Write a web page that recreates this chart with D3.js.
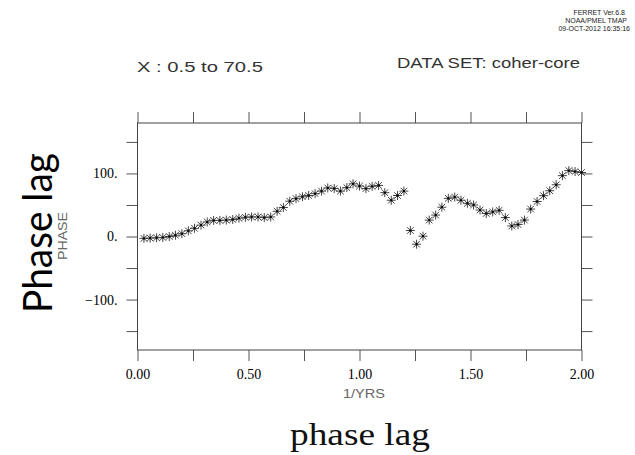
<!DOCTYPE html>
<html>
<head>
<meta charset="utf-8">
<script src="https://cdn.jsdelivr.net/npm/d3@7"></script>
<style>
  html, body { margin: 0; padding: 0; background: #fff; }
  svg { display: block; }
</style>
</head>
<body>
<svg id="chart" width="635" height="455"></svg>
<script>
// ---- data ----
const freq = [0.029,0.057,0.086,0.114,0.143,0.171,0.200,0.229,0.257,0.286,
              0.314,0.343,0.371,0.400,0.429,0.457,0.486,0.514,0.543,0.571,
              0.600,0.629,0.657,0.686,0.714,0.743,0.771,0.800,0.829,0.857,
              0.886,0.914,0.943,0.971,1.000,1.029,1.057,1.086,1.114,1.143,
              1.171,1.200,1.229,1.257,1.286,1.314,1.343,1.371,1.400,1.429,
              1.457,1.486,1.514,1.543,1.571,1.600,1.629,1.657,1.686,1.714,
              1.743,1.771,1.800,1.829,1.857,1.886,1.914,1.943,1.971,2.000];
const phase = [-3,-2.5,-2,-1.5,0,2,4.5,9,13,18,
               23,25.5,25.5,26,27,29,30.5,31,31,30,
               31,40,46,56,60,63,65,68,72,77,
               76,72,77.5,83.5,80,76,79.5,81,69.5,57.5,
               65,72,9.5,-12.2,0.5,26,34,46.5,60.5,62.5,
               57.5,52.6,50,42,36.5,39,41.5,30,16.7,19,
               26,43.5,55.5,64.7,72.6,82,96.5,104.5,103,101.5];
const xTicks = [0,0.25,0.5,0.75,1,1.25,1.5,1.75,2];
const xLabels = [0,0.5,1,1.5,2];
const yTicks = [-150,-100,-50,0,50,100,150];
const yLabels = [-100,0,100];
const headerLines = ["FERRET Ver.6.8","NOAA/PMEL TMAP","09-OCT-2012 16:35:16"];

// ---- layout ----
const svg = d3.select("#chart");
const L = 137.5, R = 581.5, T = 123, B = 350;
const x = d3.scaleLinear().domain([0, 2]).range([L, R]);
const y = d3.scaleLinear().domain([-180, 180]).range([B, T]);

const frameColor = "#444";
const serif = "'Liberation Serif', serif";
const sans = "'Liberation Sans', 'DejaVu Sans', sans-serif";

// header
const hdrRight = [625, 627, 630];
svg.selectAll("text.hdr").data(headerLines).join("text")
  .attr("class", "hdr")
  .attr("x", (d, i) => hdrRight[i]).attr("y", (d, i) => 15 + i * 8)
  .attr("text-anchor", "end")
  .attr("font-family", sans).attr("font-size", 7)
  .attr("fill", "#222")
  .text(d => d);

svg.append("text").attr("x", 137).attr("y", 72)
  .attr("font-family", sans).attr("font-size", 15)
  .attr("fill", "#333")
  .attr("textLength", 126).attr("lengthAdjust", "spacingAndGlyphs")
  .text("X : 0.5 to 70.5");
svg.append("text").attr("x", 397).attr("y", 68)
  .attr("font-family", sans).attr("font-size", 15)
  .attr("fill", "#333")
  .attr("textLength", 183).attr("lengthAdjust", "spacingAndGlyphs")
  .text("DATA SET: coher-core");

// axes
function styleAxis(g) {
  g.select(".domain").remove();
  g.attr("font-family", serif).attr("font-size", 14);
  g.selectAll(".tick line").attr("stroke", "#555").attr("stroke-width", 1);
  g.selectAll(".tick text").attr("font-family", serif)
    .attr("font-size", 14).attr("fill", "#000");
}
const fmtX = d => xLabels.some(v => Math.abs(v - d) < 1e-9) ? d3.format(".2f")(d) : "";
const fmtY = d => yLabels.includes(d) ? (d < 0 ? "\u2212" + Math.abs(d) + "." : d + ".") : "";

svg.append("g").attr("transform", `translate(0,${B})`)
  .call(d3.axisBottom(x).tickValues(xTicks).tickSize(11).tickPadding(8).tickFormat(fmtX))
  .call(styleAxis);
svg.append("g").attr("transform", `translate(0,${T})`)
  .call(d3.axisTop(x).tickValues(xTicks).tickSize(11).tickFormat(""))
  .call(styleAxis);
svg.append("g").attr("transform", `translate(${L},0)`)
  .call(d3.axisLeft(y).tickValues(yTicks).tickSize(11).tickPadding(9).tickFormat(fmtY))
  .call(styleAxis);
svg.append("g").attr("transform", `translate(${R},0)`)
  .call(d3.axisRight(y).tickValues(yTicks).tickSize(11).tickFormat(""))
  .call(styleAxis);

// frame
svg.append("rect").attr("x", L).attr("y", T).attr("width", R - L).attr("height", B - T)
  .attr("fill", "none").attr("stroke", frameColor).attr("stroke-width", 1);

// markers (asterisks)
const pts = freq.map((f, i) => [f, phase[i]]);
const star = "M-4.5,0H4.5M0,-4.5V4.5M-3.3,-3.3L3.3,3.3M-3.3,3.3L3.3,-3.3";
svg.append("g").selectAll("path").data(pts).join("path")
  .attr("transform", d => `translate(${x(d[0])},${y(d[1])})`)
  .attr("d", star)
  .attr("fill", "none").attr("stroke", "#444").attr("stroke-width", 1);
svg.append("g").selectAll("rect").data(pts).join("rect")
  .attr("x", d => x(d[0]) - 1).attr("y", d => y(d[1]) - 1)
  .attr("width", 2).attr("height", 2).attr("fill", "#000");

// axis titles
svg.append("text").attr("x", 364).attr("y", 398).attr("text-anchor", "middle")
  .attr("font-family", sans).attr("font-size", 13)
  .attr("textLength", 42).attr("lengthAdjust", "spacingAndGlyphs")
  .attr("fill", "#666").text("1/YRS");
svg.append("text").attr("transform", "translate(67,236) rotate(-90)")
  .attr("text-anchor", "middle")
  .attr("font-family", sans).attr("font-size", 12)
  .attr("textLength", 48).attr("lengthAdjust", "spacingAndGlyphs")
  .attr("fill", "#666").text("PHASE");
svg.append("text").attr("transform", "translate(52,233) rotate(-90)")
  .attr("text-anchor", "middle")
  .attr("font-family", "Lato").attr("font-size", 40)
  .attr("textLength", 160).attr("lengthAdjust", "spacingAndGlyphs")
  .attr("fill", "#000").text("Phase lag");
svg.append("text").attr("x", 360).attr("y", 445).attr("text-anchor", "middle")
  .attr("font-family", "'Liberation Serif', serif").attr("font-size", 32)
  .attr("textLength", 140).attr("lengthAdjust", "spacingAndGlyphs")
  .attr("fill", "#111").text("phase lag");
</script>
</body>
</html>
